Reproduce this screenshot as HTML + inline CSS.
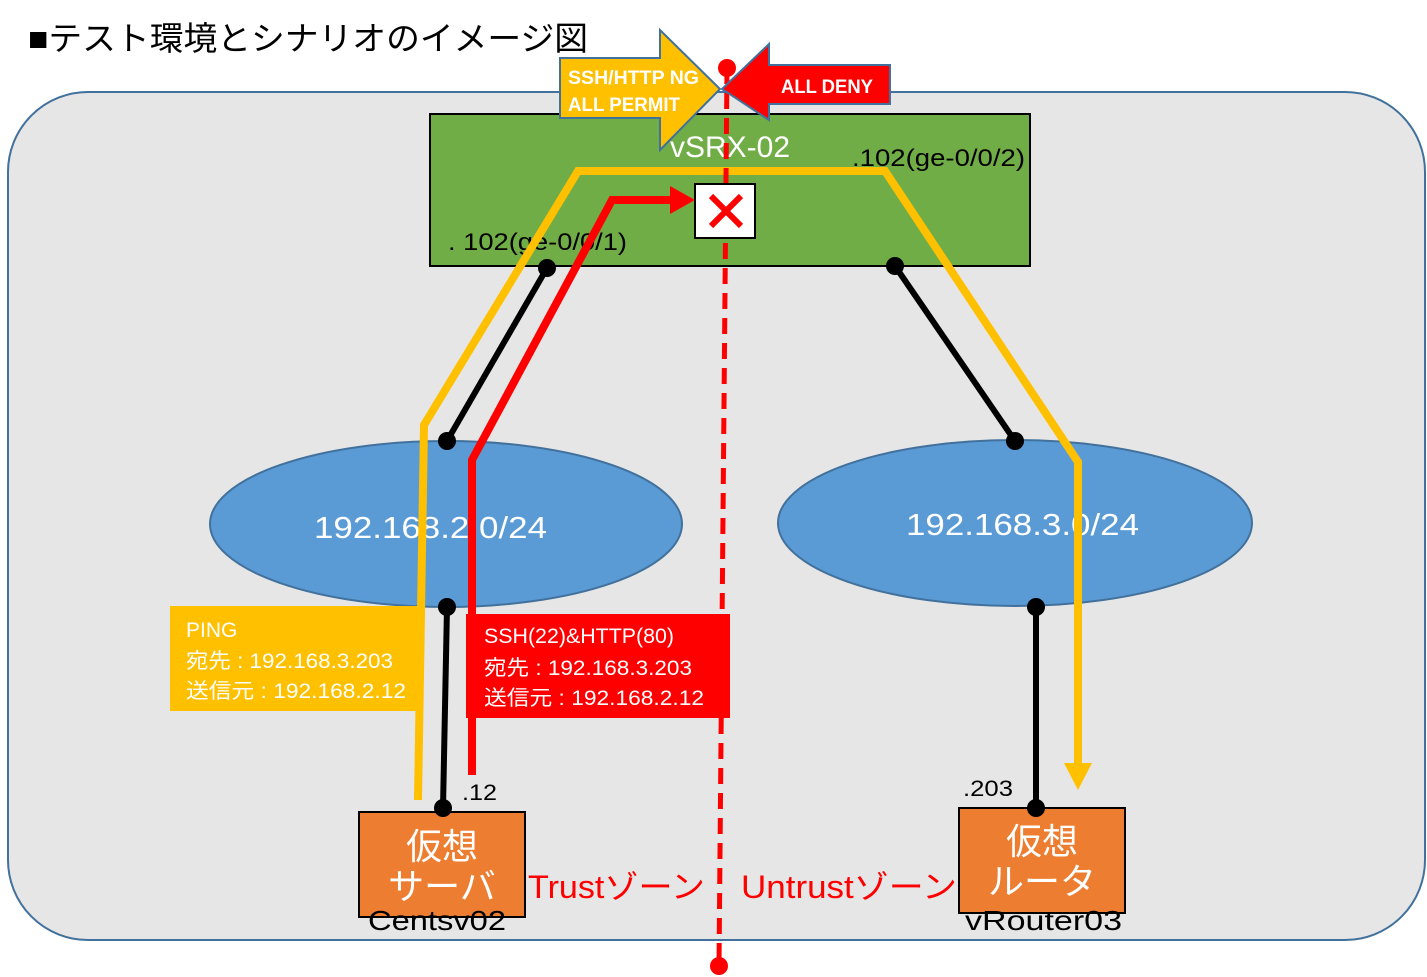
<!DOCTYPE html>
<html><head><meta charset="utf-8"><style>
body{margin:0;background:#fff}
svg{display:block}
text{font-family:"Liberation Sans","Noto Sans CJK JP",sans-serif}
</style></head><body>
<svg width="1427" height="977" viewBox="0 0 1427 977" xmlns="http://www.w3.org/2000/svg">
<text x="28" y="50" font-size="33" fill="#000" textLength="560" lengthAdjust="spacingAndGlyphs">■テスト環境とシナリオのイメージ図</text>
<rect x="8" y="92" width="1417" height="848" rx="80" fill="#e6e6e6" stroke="#41719c" stroke-width="2"/>
<rect x="430" y="114" width="600" height="152" fill="#70ad47" stroke="#000" stroke-width="2"/>
<text x="670" y="157" font-size="30" fill="#fff" textLength="120" lengthAdjust="spacingAndGlyphs">vSRX-02</text>
<text x="852" y="166" font-size="24" fill="#000" textLength="173" lengthAdjust="spacingAndGlyphs">.102(ge-0/0/2)</text>
<text x="448" y="250" font-size="24" fill="#000" textLength="179" lengthAdjust="spacingAndGlyphs">. 102(ge-0/0/1)</text>
<ellipse cx="446" cy="524" rx="236" ry="83" fill="#5b9bd5" stroke="#41719c" stroke-width="2"/>
<ellipse cx="1015" cy="523" rx="237" ry="83" fill="#5b9bd5" stroke="#41719c" stroke-width="2"/>
<text x="314" y="538" font-size="31" fill="#fff" textLength="233" lengthAdjust="spacingAndGlyphs">192.168.2.0/24</text>
<text x="906" y="535" font-size="31" fill="#fff" textLength="233" lengthAdjust="spacingAndGlyphs">192.168.3.0/24</text>
<g stroke="#000" stroke-width="6" fill="none">
<line x1="547" y1="268" x2="447" y2="441"/>
<line x1="895" y1="266" x2="1015" y2="441"/>
<line x1="447" y1="607" x2="443" y2="808"/>
<line x1="1036" y1="607" x2="1036" y2="808"/>
</g>
<polyline points="418,800 424,425 578,171 885,171 1078,462 1078,765" fill="none" stroke="#ffc000" stroke-width="8"/>
<polygon points="1064,763 1092,763 1078,790" fill="#ffc000"/>
<polyline points="472,775 472,460 612,200 672,200" fill="none" stroke="#f00" stroke-width="8"/>
<polygon points="670,186 670,214 695,200" fill="#f00"/>
<rect x="170" y="606" width="248" height="105" fill="#ffc000"/>
<text font-size="21" fill="#fff"><tspan x="186" y="637">PING</tspan><tspan x="186" y="668" textLength="207" lengthAdjust="spacingAndGlyphs">宛先 : 192.168.3.203</tspan><tspan x="186" y="698" textLength="220" lengthAdjust="spacingAndGlyphs">送信元 : 192.168.2.12</tspan></text>
<rect x="466" y="614" width="264" height="104" fill="#f00"/>
<text font-size="21" fill="#fff"><tspan x="484" y="643" textLength="190" lengthAdjust="spacingAndGlyphs">SSH(22)&amp;HTTP(80)</tspan><tspan x="484" y="675" textLength="208" lengthAdjust="spacingAndGlyphs">宛先 : 192.168.3.203</tspan><tspan x="484" y="705" textLength="220" lengthAdjust="spacingAndGlyphs">送信元 : 192.168.2.12</tspan></text>
<line x1="727" y1="68" x2="719" y2="966" stroke="#f00" stroke-width="5" stroke-dasharray="16,9"/>
<circle cx="727" cy="68" r="9" fill="#f00"/>
<circle cx="719" cy="966" r="9" fill="#f00"/>
<rect x="695" y="184" width="60" height="54" fill="#fff" stroke="#000" stroke-width="2"/>
<path d="M711,196 L741,226 M741,196 L711,226" stroke="#f00" stroke-width="6"/>
<polygon points="560,58 660,58 660,30 720,89 660,150 660,118 560,118" fill="#ffc000" stroke="#41719c" stroke-width="2"/>
<text font-size="19" font-weight="bold" fill="#fff"><tspan x="568" y="84" textLength="131" lengthAdjust="spacingAndGlyphs">SSH/HTTP NG</tspan><tspan x="568" y="111" textLength="112" lengthAdjust="spacingAndGlyphs">ALL PERMIT</tspan></text>
<polygon points="890,65 769,65 769,44 722,89 769,120 769,104 890,104" fill="#f00" stroke="#41719c" stroke-width="2"/>
<text x="781" y="93" font-size="19" font-weight="bold" fill="#fff" textLength="92" lengthAdjust="spacingAndGlyphs">ALL DENY</text>
<g fill="#000">
<circle cx="547" cy="268" r="9"/><circle cx="447" cy="441" r="9"/>
<circle cx="895" cy="266" r="9"/><circle cx="1015" cy="441" r="9"/>
<circle cx="447" cy="607" r="9"/>
<circle cx="1036" cy="607" r="9"/>
</g>
<rect x="359" y="812" width="166" height="105" fill="#ed7d31" stroke="#000" stroke-width="2"/>
<rect x="959" y="808" width="166" height="105" fill="#ed7d31" stroke="#000" stroke-width="2"/>
<circle cx="443" cy="808" r="9"/><circle cx="1036" cy="808" r="9"/>
<text font-size="36" fill="#fff" text-anchor="middle"><tspan x="442" y="859">仮想</tspan><tspan x="442" y="899">サーバ</tspan></text>
<text font-size="36" fill="#fff" text-anchor="middle"><tspan x="1042" y="854">仮想</tspan><tspan x="1042" y="894">ルータ</tspan></text>
<text x="368" y="930" font-size="28" fill="#000" textLength="138" lengthAdjust="spacingAndGlyphs">Centsv02</text>
<text x="965" y="930" font-size="28" fill="#000" textLength="157" lengthAdjust="spacingAndGlyphs">vRouter03</text>
<text x="462" y="800" font-size="22" fill="#000" textLength="35" lengthAdjust="spacingAndGlyphs">.12</text>
<text x="963" y="796" font-size="22" fill="#000" textLength="50" lengthAdjust="spacingAndGlyphs">.203</text>
<text x="528" y="898" font-size="32" fill="#f00" textLength="177" lengthAdjust="spacingAndGlyphs">Trustゾーン</text>
<text x="741" y="898" font-size="32" fill="#f00" textLength="216" lengthAdjust="spacingAndGlyphs">Untrustゾーン</text>
</svg>
</body></html>
